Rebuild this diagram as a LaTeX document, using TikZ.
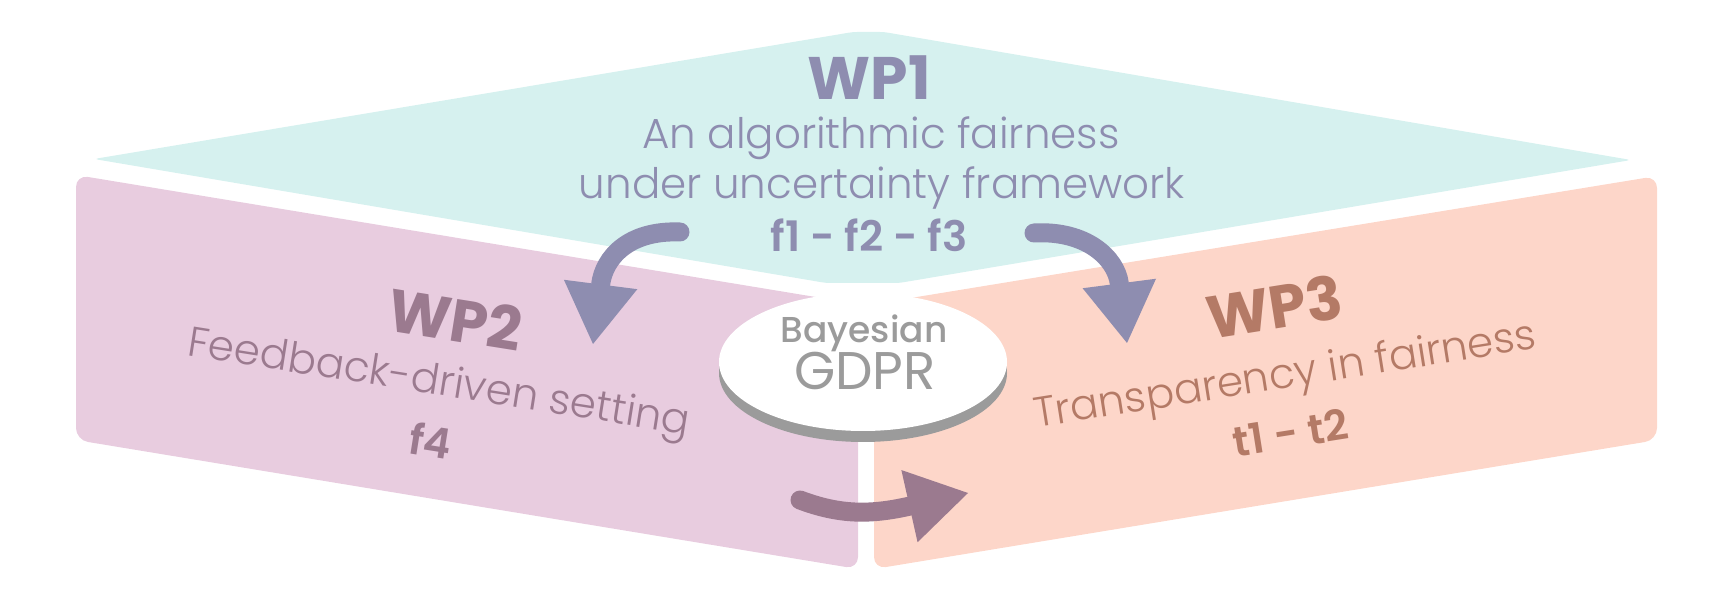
\documentclass[tikz,border=0pt]{standalone}
\usepackage{fontspec}
\setmainfont{Poppins}
\IfFontExistsTF{Poppins Light}{\newfontfamily\lightfam{Poppins Light}}{\newfontfamily\lightfam{Poppins}}
\IfFontExistsTF{Poppins SemiBold}{\newfontfamily\semifam{Poppins SemiBold}}{\newfontfamily\semifam{Poppins}[FakeBold=1.5]}
\IfFontExistsTF{Poppins Medium}{\newfontfamily\medfam{Poppins Medium}}{\newfontfamily\medfam{Poppins}}
\usetikzlibrary{arrows.meta,shapes.geometric}
\definecolor{cyanbg}{HTML}{D6F1EF}
\definecolor{pinkbg}{HTML}{E8CCDF}
\definecolor{peachbg}{HTML}{FDD6C9}
\definecolor{wpone}{HTML}{8E8DB0}
\definecolor{wptwo}{HTML}{9B7A8F}
\definecolor{wpthree}{HTML}{B47A66}
\definecolor{greyc}{HTML}{9B9B9B}
\tikzset{
  wptitle/.style={font=\fontsize{30}{30}\selectfont\bfseries, anchor=base, inner sep=0pt},
  subt/.style={font=\lightfam\fontsize{21}{21}\selectfont, anchor=base, inner sep=0pt},
  codet/.style={font=\semifam\fontsize{21}{21}\selectfont, anchor=base, inner sep=0pt},
  flowarrow/.style={line width=9.5pt, line cap=round,
    -{Triangle[length=30pt,width=37pt,line width=0pt]}},
}
\begin{document}
\begin{tikzpicture}[x=0.5pt,y=-0.5pt]
\useasboundingbox (0,0) rectangle (1727,597);
% shapes
\fill[cyanbg, rounded corners=2pt] (94,159) -- (853,32) -- (884,32) -- (1631,160) -- (899,283) -- (826,283) -- cycle;
\fill[pinkbg, rounded corners=6pt] (76,175) -- (858,304) -- (858,569) -- (76,440) -- cycle;
\fill[peachbg, rounded corners=6pt] (874,304) -- (1657,176) -- (1657,440) -- (874,569) -- cycle;
% GDPR disc
\node[ellipse, fill=greyc, minimum width=144pt, minimum height=69pt, inner sep=0pt] (gdprshadow) at (863,373) {};
\node[ellipse, fill=white, minimum width=144pt, minimum height=69pt, inner sep=0pt] (gdpr) at (863,362) {};
\node[font=\medfam\fontsize{18}{18}\selectfont, text=greyc, anchor=base, inner sep=0pt] (bayes) at (864,343) {Bayesian};
\node[font=\fontsize{26.5}{26.5}\selectfont, text=greyc, anchor=base, inner sep=0pt] (gdprt) at (865,390) {GDPR};
% WP1
\node[wptitle, text=wpone] (wp1) at (869,100) {WP1};
\node[subt, text=wpone] (wp1a) at (881,149) {An algorithmic fairness};
\node[subt, text=wpone] (wp1b) at (882,199) {under uncertainty framework};
\node[codet, text=wpone] (wp1c) at (869,252) {f1 - f2 - f3};
% WP2
\node[wptitle, text=wptwo, rotate=-9] (wp2) at (452,341) {WP2};
\node[subt, text=wptwo, rotate=-9] (wp2a) at (437,395) {Feedback-driven setting};
\node[codet, text=wptwo, rotate=-9] (wp2c) at (428,457) {f4};
% WP3
\node[wptitle, text=wpthree, rotate=9] (wp3) at (1278,329) {WP3};
\node[subt, text=wpthree, rotate=9] (wp3a) at (1287,388) {Transparency in fairness};
\node[codet, text=wpthree, rotate=9] (wp3c) at (1293,448) {t1 - t2};
% arrows
\coordinate (la) at (680,232);
\coordinate (lb) at (593,344);
\coordinate (ra) at (1034,233);
\coordinate (rb) at (1127,343);
\coordinate (ba) at (800,500);
\coordinate (bb) at (968,493);
\draw[flowarrow, wpone] (la) .. controls (628,230) and (604,258) .. (lb);
\draw[flowarrow, wpone] (ra) .. controls (1086,230) and (1116,258) .. (rb);
\draw[flowarrow, wptwo] (ba) .. controls (840,515) and (870,515) .. (bb);
\end{tikzpicture}
\end{document}
